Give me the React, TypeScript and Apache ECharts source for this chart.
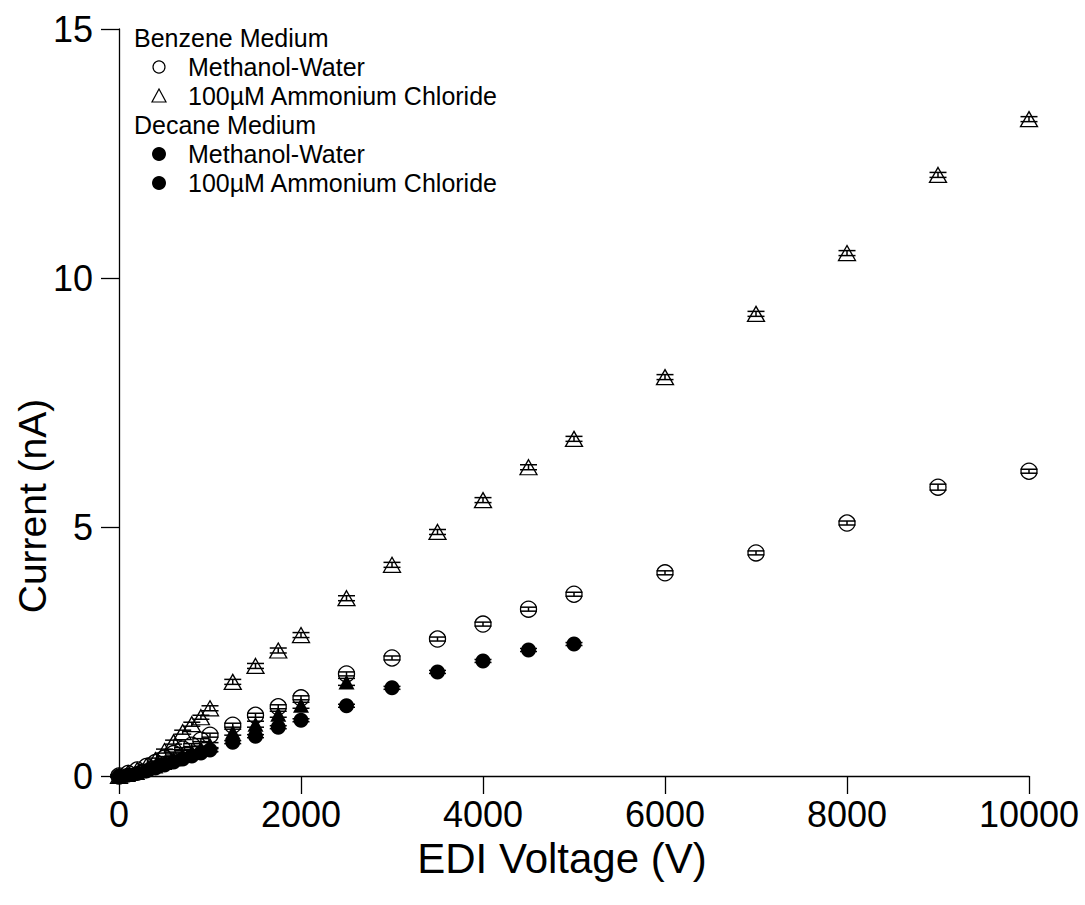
import React, { useEffect, useRef } from "react";
import * as echarts from "echarts";

const voltages = [0, 100, 200, 300, 400, 500, 600, 700, 800, 900, 1000, 1250, 1500, 1750, 2000, 2500, 3000, 3500, 4000, 4500, 5000, 6000, 7000, 8000, 9000, 10000];
const benzeneMethanolWater = [0, 0.05, 0.12, 0.19, 0.27, 0.36, 0.45, 0.54, 0.62, 0.72, 0.82, 1.02, 1.22, 1.39, 1.57, 2.05, 2.37, 2.75, 3.05, 3.35, 3.65, 4.08, 4.48, 5.08, 5.8, 6.12];
const benzeneMethanolWaterErr = [0.02, 0.02, 0.02, 0.02, 0.03, 0.03, 0.03, 0.03, 0.03, 0.03, 0.04, 0.04, 0.04, 0.04, 0.04, 0.04, 0.04, 0.04, 0.04, 0.04, 0.04, 0.04, 0.04, 0.04, 0.06, 0.04];
const benzeneAmmonium = [0, 0.06, 0.12, 0.2, 0.32, 0.5, 0.68, 0.88, 1.04, 1.18, 1.36, 1.89, 2.21, 2.52, 2.83, 3.57, 4.24, 4.9, 5.54, 6.2, 6.77, 8.01, 9.28, 10.5, 12.07, 13.19];
const benzeneAmmoniumErr = [0.02, 0.03, 0.03, 0.03, 0.04, 0.04, 0.04, 0.04, 0.04, 0.04, 0.05, 0.05, 0.05, 0.05, 0.05, 0.05, 0.05, 0.05, 0.05, 0.05, 0.05, 0.05, 0.05, 0.05, 0.05, 0.05];
const decaneVoltages = [0, 100, 200, 300, 400, 500, 600, 700, 800, 900, 1000, 1250, 1500, 1750, 2000, 2500, 3000, 3500, 4000, 4500, 5000];
const decaneMethanolWater = [0, 0.02, 0.05, 0.1, 0.16, 0.22, 0.28, 0.34, 0.4, 0.46, 0.52, 0.68, 0.8, 0.98, 1.12, 1.41, 1.77, 2.09, 2.31, 2.53, 2.65];
const decaneMethanolWaterErr = [0.02, 0.02, 0.02, 0.02, 0.02, 0.03, 0.03, 0.03, 0.03, 0.03, 0.03, 0.03, 0.03, 0.03, 0.03, 0.03, 0.03, 0.03, 0.03, 0.03, 0.03];
const decaneAmmoniumVoltages = [0, 100, 200, 300, 400, 500, 600, 700, 800, 900, 1000, 1250, 1500, 1750, 2000, 2500];
const decaneAmmonium = [0, 0.03, 0.07, 0.13, 0.2, 0.27, 0.34, 0.41, 0.48, 0.55, 0.62, 0.88, 1.04, 1.24, 1.42, 1.89];
const decaneAmmoniumErr = [0.02, 0.03, 0.03, 0.03, 0.04, 0.04, 0.04, 0.05, 0.05, 0.05, 0.05, 0.06, 0.06, 0.06, 0.06, 0.07];

const xTicks = [0, 2000, 4000, 6000, 8000, 10000];
const yTicks = [0, 5, 10, 15];

const FONT = "'Liberation Sans', Arial, sans-serif";

function pts(xs: number[], ys: number[]) {
  return ys.map((y, i) => [xs[i], y]);
}
function errPts(xs: number[], ys: number[], es: number[]) {
  return ys.map((y, i) => [xs[i], y, es[i]]);
}

function errorSeries(data: number[][], z: number) {
  return {
    type: "custom",
    silent: true,
    z,
    data,
    renderItem: (params: any, api: any) => {
      const x = api.value(0);
      const y = api.value(1);
      const e = api.value(2);
      const top = api.coord([x, y + e]);
      const bot = api.coord([x, y - e]);
      const st = { stroke: "#000", lineWidth: 1.5, fill: "none" };
      return {
        type: "group",
        children: [
          { type: "line", shape: { x1: top[0], y1: top[1], x2: bot[0], y2: bot[1] }, style: st },
          { type: "line", shape: { x1: top[0] - 8.5, y1: top[1], x2: top[0] + 8.5, y2: top[1] }, style: st },
          { type: "line", shape: { x1: bot[0] - 8.5, y1: bot[1], x2: bot[0] + 8.5, y2: bot[1] }, style: st },
        ],
      };
    },
  };
}

export default function App() {
  const ref = useRef<HTMLDivElement>(null);
  useEffect(() => {
    if (!ref.current) return;
    const chart = echarts.init(ref.current, undefined, { renderer: "svg" });
    const legendRows = [
      { label: "Benzene Medium", header: true, y: 38 },
      { label: "Methanol-Water", sym: "oc", y: 67 },
      { label: "100µM Ammonium Chloride", sym: "ot", y: 96 },
      { label: "Decane Medium", header: true, y: 125 },
      { label: "Methanol-Water", sym: "fc", y: 154 },
      { label: "100µM Ammonium Chloride", sym: "fc", y: 183 },
    ];
    const graphics: any[] = [];
    legendRows.forEach((r) => {
      if (r.header) {
        graphics.push({ type: "text", x: 134, y: r.y, style: { text: r.label, font: `25px ${FONT}`, fill: "#000", verticalAlign: "middle" } });
      } else {
        graphics.push({ type: "text", x: 188, y: r.y, style: { text: r.label, font: `25px ${FONT}`, fill: "#000", verticalAlign: "middle" } });
        if (r.sym === "oc") {
          graphics.push({ type: "circle", shape: { cx: 159, cy: r.y, r: 6 }, style: { fill: "none", stroke: "#000", lineWidth: 1.2 } });
        } else if (r.sym === "ot") {
          graphics.push({ type: "polygon", shape: { points: [[152, r.y + 6], [166, r.y + 6], [159, r.y - 7]] }, style: { fill: "none", stroke: "#000", lineWidth: 1.2 } });
        } else {
          graphics.push({ type: "circle", shape: { cx: 159, cy: r.y, r: 7 }, style: { fill: "#000" } });
        }
      }
    });
    graphics.push({ type: "text", x: 562, y: 858, style: { text: "EDI Voltage (V)", font: `42px ${FONT}`, fill: "#000", align: "center", verticalAlign: "middle" } });
    graphics.push({ type: "text", x: 32, y: 506, rotation: Math.PI / 2, style: { text: "Current (nA)", font: `39px ${FONT}`, fill: "#000", align: "center", verticalAlign: "middle" } });

    chart.setOption({
      animation: false,
      backgroundColor: "#fff",
      grid: { left: 119, top: 29, right: 56, bottom: 129, containLabel: false },
      xAxis: {
        type: "value",
        min: 0,
        max: 10000,
        interval: 2000,
        axisLine: { onZero: false, lineStyle: { color: "#000", width: 1.3 } },
        axisTick: { show: true, inside: false, length: 18, lineStyle: { color: "#000", width: 1.3 } },
        axisLabel: { color: "#000", fontSize: 36, fontFamily: FONT, margin: 20, formatter: (v: number) => (xTicks.includes(v) ? String(v) : "") },
        splitLine: { show: false },
      },
      yAxis: {
        type: "value",
        min: 0,
        max: 15,
        interval: 5,
        axisLine: { show: true, onZero: false, lineStyle: { color: "#000", width: 1.3 } },
        axisTick: { show: true, inside: false, length: 18, lineStyle: { color: "#000", width: 1.3 } },
        axisLabel: { color: "#000", fontSize: 36, fontFamily: FONT, margin: 26, formatter: (v: number) => (yTicks.includes(v) ? String(v) : "") },
        splitLine: { show: false },
      },
      graphic: graphics,
      series: [
        errorSeries(errPts(decaneVoltages, decaneMethanolWater, decaneMethanolWaterErr), 3),
        {
          name: "Decane Methanol-Water",
          type: "scatter",
          symbol: "circle",
          symbolSize: 15,
          z: 2,
          itemStyle: { color: "#000", opacity: 1 },
          data: pts(decaneVoltages, decaneMethanolWater),
        },
        errorSeries(errPts(decaneAmmoniumVoltages, decaneAmmonium, decaneAmmoniumErr), 5),
        {
          name: "Decane 100µM Ammonium Chloride",
          type: "scatter",
          symbol: "triangle",
          symbolSize: [16, 15],
          z: 4,
          itemStyle: { color: "#000", opacity: 1 },
          data: pts(decaneAmmoniumVoltages, decaneAmmonium),
        },
        errorSeries(errPts(voltages, benzeneMethanolWater, benzeneMethanolWaterErr), 7),
        {
          name: "Benzene Methanol-Water",
          type: "scatter",
          symbol: "circle",
          symbolSize: 16,
          z: 6,
          itemStyle: { color: "rgba(0,0,0,0)", borderColor: "#000", borderWidth: 1.3, opacity: 1 },
          data: pts(voltages, benzeneMethanolWater),
        },
        errorSeries(errPts(voltages, benzeneAmmonium, benzeneAmmoniumErr), 9),
        {
          name: "Benzene 100µM Ammonium Chloride",
          type: "scatter",
          symbol: "triangle",
          symbolSize: [17, 15],
          z: 8,
          itemStyle: { color: "rgba(0,0,0,0)", borderColor: "#000", borderWidth: 1.3, opacity: 1 },
          data: pts(voltages, benzeneAmmonium),
        },
      ],
    });
    return () => chart.dispose();
  }, []);
  return <div ref={ref} style={{ width: 1085, height: 905, position: "absolute", left: 0, top: 0 }} />;
}
